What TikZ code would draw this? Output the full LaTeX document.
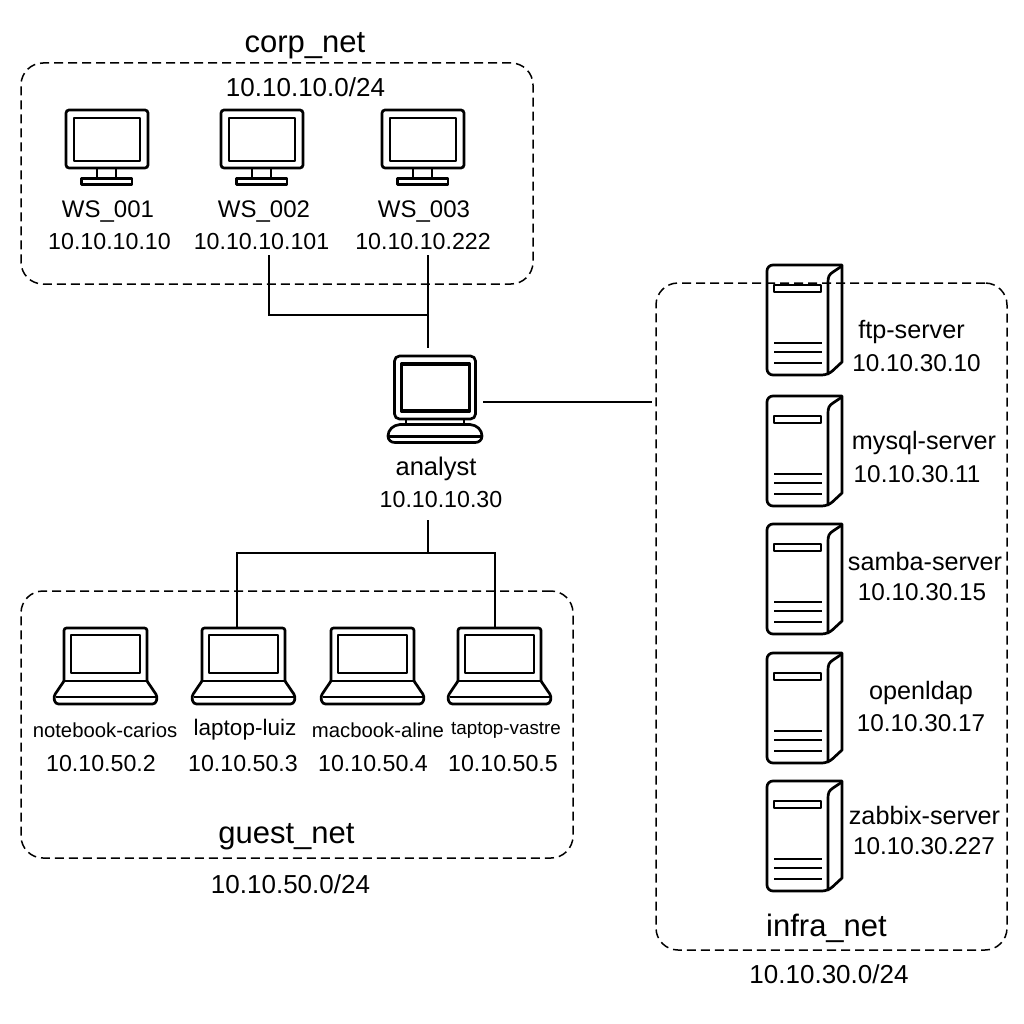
\documentclass[tikz,border=0pt]{standalone}
\usepackage{fontspec}
\setmainfont{Liberation Sans}
\newcommand{\fs}[1]{\fontsize{#1}{#1}\selectfont}
\tikzset{
  x=1pt,y=-1pt,
  icon/.style={line width=2.7pt,line join=round},
  netzone/.style={draw,line width=1.5pt,dash pattern=on 9pt off 5pt,rounded corners=22pt,inner sep=0pt},
  link/.style={draw,line width=1.8pt},
  lbl/.style={inner sep=0pt,align=center,font=\fs{23.2}},
  devname/.style={lbl,font=\fs{24}},
  srvname/.style={lbl,font=\fs{25.2}},
  srvip/.style={lbl,font=\fs{24.3}},
  smallname/.style={lbl,font=\fs{20.3}},
  headname/.style={lbl,font=\fs{31}},
  zoneip/.style={lbl,font=\fs{26}},
  iconbox/.style={inner sep=0pt,minimum width=#1},
  monitor/.pic={
    \draw[icon,rounded corners=3pt] (-41,-37.5) rectangle (41,20.5);
    \draw[icon] (-33,-29.5) rectangle (33,13.5);
    \draw[icon] (-10,20.5) -- (-10,31) (9,20.5) -- (9,31);
    \draw[icon] (-25.5,31) rectangle (25,37);
  },
  desklaptop/.pic={
    \draw[icon,rounded corners=5pt] (-40.5,-43) -- (-40.5,20) -- (40.5,20) -- (40.5,-43) -- cycle;
    \draw[icon,line width=3.2pt] (-33.5,-35) rectangle (34.5,12);
    \draw[icon] (-29,20) -- (-29,25.5) (29,20) -- (29,25.5);
    \draw[icon] (-29,25.5) -- (-35,25.5) .. controls (-42,26) and (-47,31) .. (-47,37)
      .. controls (-47,41) and (-44,43.5) .. (-40,43.5) -- (40,43.5)
      .. controls (44,43.5) and (47,41) .. (47,37) .. controls (47,31) and (42,26) .. (35,25.5) -- (29,25.5) -- cycle;
    \draw[icon] (-46,37.5) -- (46,37.5);
  },
  notebook/.pic={
    \draw[icon,rounded corners=2.5pt] (-41.5,26.5) -- (-41.5,-26.5) -- (41.5,-26.5) -- (41.5,26.5);
    \draw[icon] (-34.5,-19.5) rectangle (34.5,18.5);
    \draw[icon] (-41.5,26.5) -- (41.5,26.5);
    \draw[icon,rounded corners=3pt] (-41.5,26.5) -- (-52,42) -- (-50,49.5) -- (50,49.5) -- (52,42) -- (41.5,26.5);
    \draw[icon] (-50,42.5) -- (50,42.5);
  },
  server/.pic={
    \draw[icon,rounded corners=6pt] (14,0) -- (-61,0) -- (-61,110) -- (0,110) [sharp corners] -- (14,97) -- cycle;
    \draw[icon] (14,1) -- (5,7) .. controls (1,9.5) and (0,12) .. (0,17) -- (0,110);
    \draw[icon] (-54,20) rectangle (-7,27);
    \draw[icon] (-54,78) -- (-6,78) (-54,87) -- (-6,87) (-54,98) -- (-6,98);
  }
}
\begin{document}
\begin{tikzpicture}
\useasboundingbox[fill=white] (0,0) rectangle (1024,1024);

% zones
\node[netzone,minimum width=512pt,minimum height=221pt] (corp) at (277,173.5) {};
\node[netzone,minimum width=552pt,minimum height=267pt] (guest) at (297,724.5) {};
\node[netzone,minimum width=351pt,minimum height=667pt] (infra) at (831.5,616.5) {};

\node[headname] (corpt) at (305,45.5) {corp\_net};
\node[zoneip] (corpn) at (305.5,87) {10.10.10.0/24};
\node[headname] (guestt) at (286.5,836.5) {guest\_net};
\node[zoneip] (guestn) at (290.5,884) {10.10.50.0/24};
\node[headname] (infrat) at (826.5,928.5) {infra\_net};
\node[zoneip] (infran) at (829,974) {10.10.30.0/24};

% workstations
\node[iconbox=82pt,minimum height=75pt] (ws1) at (107,147.5) {};
\node[iconbox=82pt,minimum height=75pt] (ws2) at (262,147.5) {};
\node[iconbox=82pt,minimum height=75pt] (ws3) at (423,147.5) {};
\pic at (ws1) {monitor};
\pic at (ws2) {monitor};
\pic at (ws3) {monitor};
\node[devname] (ws1n) at (108,212) {WS\_001};
\node[lbl] (ws1i) at (109.5,241.5) {10.10.10.10};
\node[devname] (ws2n) at (264,212) {WS\_002};
\node[lbl] (ws2i) at (261.5,241.5) {10.10.10.101};
\node[devname] (ws3n) at (424,212) {WS\_003};
\node[lbl] (ws3i) at (423,241.5) {10.10.10.222};

% analyst
\node[iconbox=94pt,minimum height=86pt] (analyst) at (435,399) {};
\pic at (analyst) {desklaptop};
\node[lbl,font=\fs{25.5}] (analystn) at (436,469) {analyst};
\node[lbl] (analysti) at (441,499.5) {10.10.10.30};

% guest laptops
\node[iconbox=104pt,minimum height=76pt] (nb1) at (105.5,654.5) {};
\node[iconbox=104pt,minimum height=76pt] (nb2) at (243.5,654.5) {};
\node[iconbox=104pt,minimum height=76pt] (nb3) at (372.5,654.5) {};
\node[iconbox=104pt,minimum height=76pt] (nb4) at (499.5,654.5) {};
\pic at (nb1) {notebook};
\pic at (nb2) {notebook};
\pic at (nb3) {notebook};
\pic at (nb4) {notebook};
\node[smallname] (nb1n) at (105,730) {notebook-carios};
\node[lbl] (nb1i) at (101,763.5) {10.10.50.2};
\node[lbl,font=\fs{22.5}] (nb2n) at (245,730) {laptop-luiz};
\node[lbl] (nb2i) at (243,763.5) {10.10.50.3};
\node[smallname] (nb3n) at (378,730) {macbook-aline};
\node[lbl] (nb3i) at (373,763.5) {10.10.50.4};
\node[lbl,font=\fs{18.8}] (nb4n) at (506,730) {taptop-vastre};
\node[lbl] (nb4i) at (503,763.5) {10.10.50.5};

% servers
\foreach \nm/\yy/\ti/\ip/\tx/\ty/\ix in {
  s1/265/ftp-server/10.10.30.10/911.5/332/916.5,
  s2/396/mysql-server/10.10.30.11/924/443/917,
  s3/524/samba-server/10.10.30.15/925/561/922,
  s4/653/openldap/10.10.30.17/921/692.5/921,
  s5/781/zabbix-server/10.10.30.227/924.5/815/924}{
  \node[iconbox=75pt,minimum height=110pt] (\nm) at (804.5,\yy+55) {};
  \pic at (828,\yy) {server};
  \node[srvname] (\nm n) at (\tx,\ty) {\ti};
  \node[srvip] (\nm i) at (\ix,\ty+31) {\ip};
}

% junctions
\coordinate (ws2drop) at (269,255);
\coordinate (ws3drop) at (428,255);
\coordinate (top) at (428,348);
\coordinate (upj) at (428,315);
\coordinate (anbot) at (428,520);
\coordinate (downj) at (428,553);
\coordinate (infraport) at (652,402);
\coordinate (anright) at (483,402);
\coordinate (l2) at (237,628);
\coordinate (l4) at (495,628);

\draw[link] (ws2drop) -- (ws2drop |- upj) -- (upj);
\draw[link] (ws3drop) -- (top);
\draw[link] (anright) -- (infraport);
\draw[link] (anbot) -- (downj);
\draw[link] (l2) -- (l2 |- downj) -- (l4 |- downj) -- (l4);
\end{tikzpicture}
\end{document}
